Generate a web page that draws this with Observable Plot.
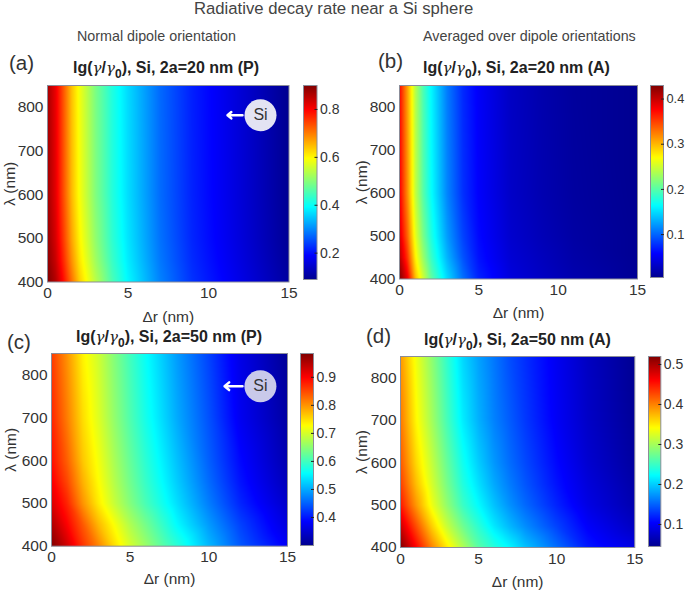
<!DOCTYPE html>
<html><head><meta charset="utf-8">
<script src="https://cdn.jsdelivr.net/npm/d3@7"></script>
<script src="https://cdn.jsdelivr.net/npm/@observablehq/plot@0.6"></script>
<style>
html,body{margin:0;padding:0;background:#fff}
#page{position:relative;width:685px;height:590px;overflow:hidden;font-family:"Liberation Sans",Arial,sans-serif;color:#333}
#page svg{position:absolute;overflow:visible;background:transparent}
.t{position:absolute;white-space:nowrap;line-height:1.1}
.main{font-size:16.7px;color:#444}
.sub{font-size:14.3px;color:#444}
.tag{font-size:20.5px;color:#333}
.title{font-size:16px;font-weight:700;color:#222}
.title i{font-family:"DejaVu Serif",serif;font-weight:400;font-size:15px}
.title sub{font-size:12px;line-height:0;vertical-align:-5px}
</style></head><body><div id="page"></div>
<script>
const drFine=[0,0.5,1,1.5,2,3,4,5,7,9,11,15];
const drWide=[0,1,2,3,4,5,6,7,8,10,12,15];
const lambdaTop=[850,600,500,450,400];
const lambdaBottom=[850,700,600,550,500,450,400];
const valuesA=[
[.87,.815,.73,.645,.585,.49,.42,.365,.275,.215,.175,.09],
[.873,.82,.736,.652,.59,.495,.424,.368,.277,.217,.177,.092],
[.881,.831,.751,.668,.603,.508,.432,.374,.282,.22,.18,.095],
[.888,.842,.766,.684,.615,.52,.441,.38,.287,.224,.184,.099],
[.90,.86,.79,.71,.635,.54,.455,.39,.295,.23,.19,.105]];
const valuesB=[
[.375,.31,.24,.195,.162,.11,.075,.055,.030,.019,.0115,.006],
[.381,.318,.246,.2,.166,.114,.078,.057,.032,.021,.013,.006],
[.394,.336,.261,.214,.177,.124,.086,.061,.035,.024,.015,.007],
[.408,.356,.276,.228,.188,.134,.093,.065,.038,.027,.017,.007],
[.43,.385,.30,.25,.205,.15,.105,.072,.042,.03,.02,.008]];
const valuesC=[
[.86,.80,.735,.695,.645,.60,.56,.525,.49,.43,.367,.306],
[.875,.815,.75,.705,.655,.61,.57,.535,.50,.44,.375,.315],
[.89,.835,.765,.72,.67,.625,.585,.55,.515,.45,.39,.325],
[.905,.852,.78,.728,.678,.633,.593,.558,.523,.458,.398,.333],
[.925,.875,.80,.74,.69,.645,.605,.57,.535,.47,.41,.345],
[.955,.90,.84,.775,.725,.675,.635,.595,.555,.49,.43,.36],
[.985,.93,.865,.81,.75,.70,.66,.62,.585,.51,.445,.38]];
const valuesD=[
[.39,.335,.29,.245,.205,.18,.16,.14,.125,.097,.072,.047],
[.405,.345,.30,.255,.215,.187,.165,.147,.13,.10,.075,.05],
[.42,.36,.315,.27,.23,.20,.175,.155,.138,.107,.08,.054],
[.432,.372,.323,.278,.238,.209,.183,.162,.144,.112,.085,.058],
[.45,.39,.335,.29,.25,.222,.195,.172,.153,.12,.09,.062],
[.485,.425,.365,.315,.275,.243,.213,.19,.17,.135,.102,.072],
[.52,.46,.40,.35,.305,.265,.24,.22,.195,.155,.115,.09]];
const jetStops=[0,.125,.375,.625,.875,1];
const jetColors=["#00008f","#0000ff","#00ffff","#ffff00","#ff0000","#800000"];
const jetScale=d3.scaleLinear().domain(jetStops).range(jetColors).interpolate(d3.interpolateRgb).clamp(true);
const jet=t=>jetScale(t);
const lambdaTicks=[400,500,600,700,800];
const drTicks=[0,5,10,15];
const ink="#333", frame="#8b8d99";
const font="Liberation Sans";

const panels=[
{tag:"(a)",tx:9,ty:52,title:"2a=20 nm (P)",hx:73,hy:59,box:[47,84.5,288.5,281],bar:[302.5,85,316,279],domain:[.09,.9],ticks:[.2,.4,.6,.8],barFont:14,dr:drFine,rows:lambdaTop,values:valuesA,si:{x:13.23,y:782,fill:"#e3e3f3",a1:12.11,a2:11.18},ylab:44,xlab:40},
{tag:"(b)",tx:378,ty:50,title:"2a=20 nm (A)",hx:423,hy:59,box:[398.7,84.5,636.7,278],bar:[650,85,663,277],domain:[.005,.43],ticks:[.1,.2,.3,.4],barFont:12.8,dr:drFine,rows:lambdaTop,values:valuesB,ylab:44,xlab:39},
{tag:"(c)",tx:7,ty:331,title:"2a=50 nm (P)",hx:76,hy:328,box:[51,353.3,287,546],bar:[300,353,313,545],domain:[.30,.985],ticks:[.4,.5,.6,.7,.8,.9],barFont:14,dr:drWide,rows:lambdaBottom,values:valuesC,si:{x:13.28,y:773.6,fill:"#c9c9ea",a1:12.14,a2:11},ylab:47,xlab:38},
{tag:"(d)",tx:366,ty:325,title:"2a=50 nm (A)",hx:424,hy:331,box:[400,356,634.3,547],bar:[647.7,356,660,546],domain:[.045,.52],ticks:[.1,.2,.3,.4,.5],barFont:14,dr:drWide,rows:lambdaBottom,values:valuesD,ylab:45,xlab:40}
];

const page=document.getElementById("page");
function label(cls,x,y,html){const d=document.createElement("div");d.className="t "+cls;d.style.left=x+"px";d.style.top=y+"px";d.innerHTML=html;page.appendChild(d);}
function place(svg,x,y){svg.style.left=x+"px";svg.style.top=y+"px";page.appendChild(svg);}

label("main",194,0,"Radiative decay rate near a Si sphere");
label("sub",77,29,"Normal dipole orientation");
label("sub",423,29,"Averaged over dipole orientations");

for(const p of panels){
  const [x0,y0,x1,y1]=p.box, w=x1-x0, h=y1-y0;
  const color={type:"linear",domain:p.domain,interpolate:jet,clamp:true};
  const pts=p.rows.flatMap((l,i)=>p.dr.map((d,j)=>({dr:d,lambda:l,v:p.values[i][j]})));
  const ml=48,mb=46,mt=1,mr=1;
  const marks=[
    Plot.raster(pts,{x:"dr",y:"lambda",fill:"v",interpolate:"barycentric",pixelSize:1}),
    Plot.frame({stroke:frame,strokeWidth:1}),
    Plot.axisX({ticks:drTicks,tickSize:0,tickPadding:5,fontSize:15.5,label:"Δr (nm)",labelAnchor:"center",labelArrow:"none",labelOffset:p.xlab,tickFormat:d=>d,fill:ink}),
    Plot.axisY({ticks:lambdaTicks,tickSize:0,tickPadding:4,fontSize:15.5,label:"λ (nm)",labelAnchor:"center",labelArrow:"none",labelOffset:p.ylab,tickFormat:d=>d,fill:ink})
  ];
  if(p.si){
    marks.push(
      Plot.dot([p.si],{x:"x",y:"y",r:16,fill:"fill",stroke:"none"}),
      Plot.text([p.si],{x:"x",y:"y",text:()=>"Si",fontSize:16,fill:ink}),
      Plot.arrow([p.si],{x1:"a1",x2:"a2",y1:"y",y2:"y",stroke:"#fff",strokeWidth:2.5,headLength:6,headAngle:80})
    );
  }
  const svg=Plot.plot({width:w+ml+mr,height:h+mt+mb,marginLeft:ml,marginRight:mr,marginTop:mt,marginBottom:mb,
    x:{domain:[0,15],label:null},y:{domain:[400,850],label:null},color,style:{fontFamily:font,background:"transparent",overflow:"visible"},marks});
  place(svg,x0-ml,y0-mt);
  label("tag",p.tx,p.ty,p.tag);
  label("title",p.hx,p.hy,'lg(<i>γ</i>/<i>γ</i><sub>0</sub>), Si, '+p.title);

  const [bx0,by0,bx1,by1]=p.bar;
  const [lo,hi]=p.domain;
  const bar=Plot.plot({width:bx1-bx0+24,height:by1-by0+2,marginLeft:1,marginRight:23,marginTop:1,marginBottom:1,
    x:{domain:[0,1],axis:null},y:{domain:[lo,hi],label:null},color,style:{fontFamily:font,background:"transparent",overflow:"visible"},
    marks:[
      Plot.raster({x1:0,x2:1,y1:lo,y2:hi,fill:(x,y)=>y,pixelSize:1}),
      Plot.frame({stroke:frame,strokeWidth:1}),
      Plot.axisY({anchor:"right",ticks:p.ticks,tickSize:-3,tickPadding:6,fontSize:p.barFont,label:null,tickFormat:d=>String(d),fill:ink,stroke:"#222"})
    ]});
  place(bar,bx0-1,by0-1);
}
</script></body></html>
